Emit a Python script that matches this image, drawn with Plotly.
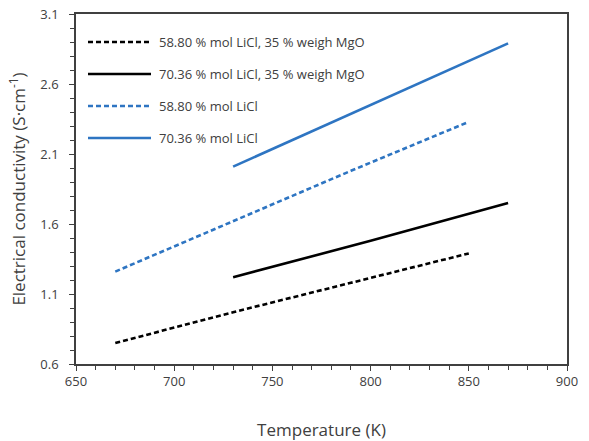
import plotly.graph_objects as go

# Data
temp_a = [670, 730, 790, 850]
cond_a = [0.75, 0.97, 1.18, 1.39]          # 58.80 % mol LiCl, 35 % weigh MgO
temp_b = [730, 800, 870]
cond_b = [1.22, 1.48, 1.75]                # 70.36 % mol LiCl, 35 % weigh MgO
temp_c = [670, 730, 790, 850]
cond_c = [1.26, 1.62, 1.98, 2.33]          # 58.80 % mol LiCl
temp_d = [730, 800, 870]
cond_d = [2.01, 2.45, 2.89]                # 70.36 % mol LiCl

names = ["58.80 % mol LiCl, 35 % weigh MgO",
         "70.36 % mol LiCl, 35 % weigh MgO",
         "58.80 % mol LiCl",
         "70.36 % mol LiCl"]

BLUE = "#2E75C2"
styles = [("black", "5px,3px"), ("black", "solid"), (BLUE, "5px,3px"), (BLUE, "solid")]
series = [(temp_a, cond_a), (temp_b, cond_b), (temp_c, cond_c), (temp_d, cond_d)]

fig = go.Figure()
for (x, y), (c, d), n in zip(series, styles, names):
    fig.add_trace(go.Scatter(x=x, y=y, mode="lines", name=n, showlegend=False,
                             line=dict(color=c, width=2.6, dash=d)))

# custom legend (inside plot area, top-left)
L, R, T, B = 76, 567, 14, 364
def px(xp): return (xp - L) / (R - L)
def py(yp): return (B - yp) / (B - T)
rows = [42, 74, 106, 138]
for (c, d), n, yr in zip(styles, names, rows):
    fig.add_shape(type="line", xref="paper", yref="paper",
                  x0=px(88), x1=px(151), y0=py(yr), y1=py(yr),
                  line=dict(color=c, width=2.6, dash=d))
    fig.add_annotation(xref="paper", yref="paper", x=px(157), y=py(yr),
                       text=n, showarrow=False, xanchor="left", yanchor="middle",
                       font=dict(size=13, color="#404040", family="Open Sans"))

axis_common = dict(showline=True, linecolor="#404040", linewidth=1.5, mirror=True,
                   showgrid=False, zeroline=False, ticks="outside", ticklen=5,
                   tickcolor="#404040", tickwidth=1.2, automargin=False,
                   tickfont=dict(size=13, color="#404040", family="Open Sans"))

fig.update_xaxes(range=[650, 900], dtick=50, tick0=650,
                 minor=dict(dtick=10, ticks="outside", ticklen=4, tickcolor="#404040"),
                 title=dict(text="Temperature (K)", standoff=36,
                            font=dict(size=17, color="#404040", family="Open Sans")),
                 **axis_common)
fig.update_yaxes(range=[0.6, 3.1], dtick=0.5, tick0=0.6, tickformat=".1f",
                 ticklabelstandoff=8,
                 minor=dict(dtick=0.1, ticks="outside", ticklen=4, tickcolor="#404040"),
                 title=dict(text="Electrical conductivity (S·cm<sup>-1</sup>)", standoff=10,
                            font=dict(size=17, color="#404040", family="Open Sans")),
                 **axis_common)

fig.update_layout(width=589, height=441, plot_bgcolor="white", paper_bgcolor="white",
                  margin=dict(l=76, r=22, t=14, b=77), showlegend=False)

fig.write_html("out.html", config={"displayModeBar": False},
               post_script="document.body.style.margin='0';document.body.style.padding='0';")
